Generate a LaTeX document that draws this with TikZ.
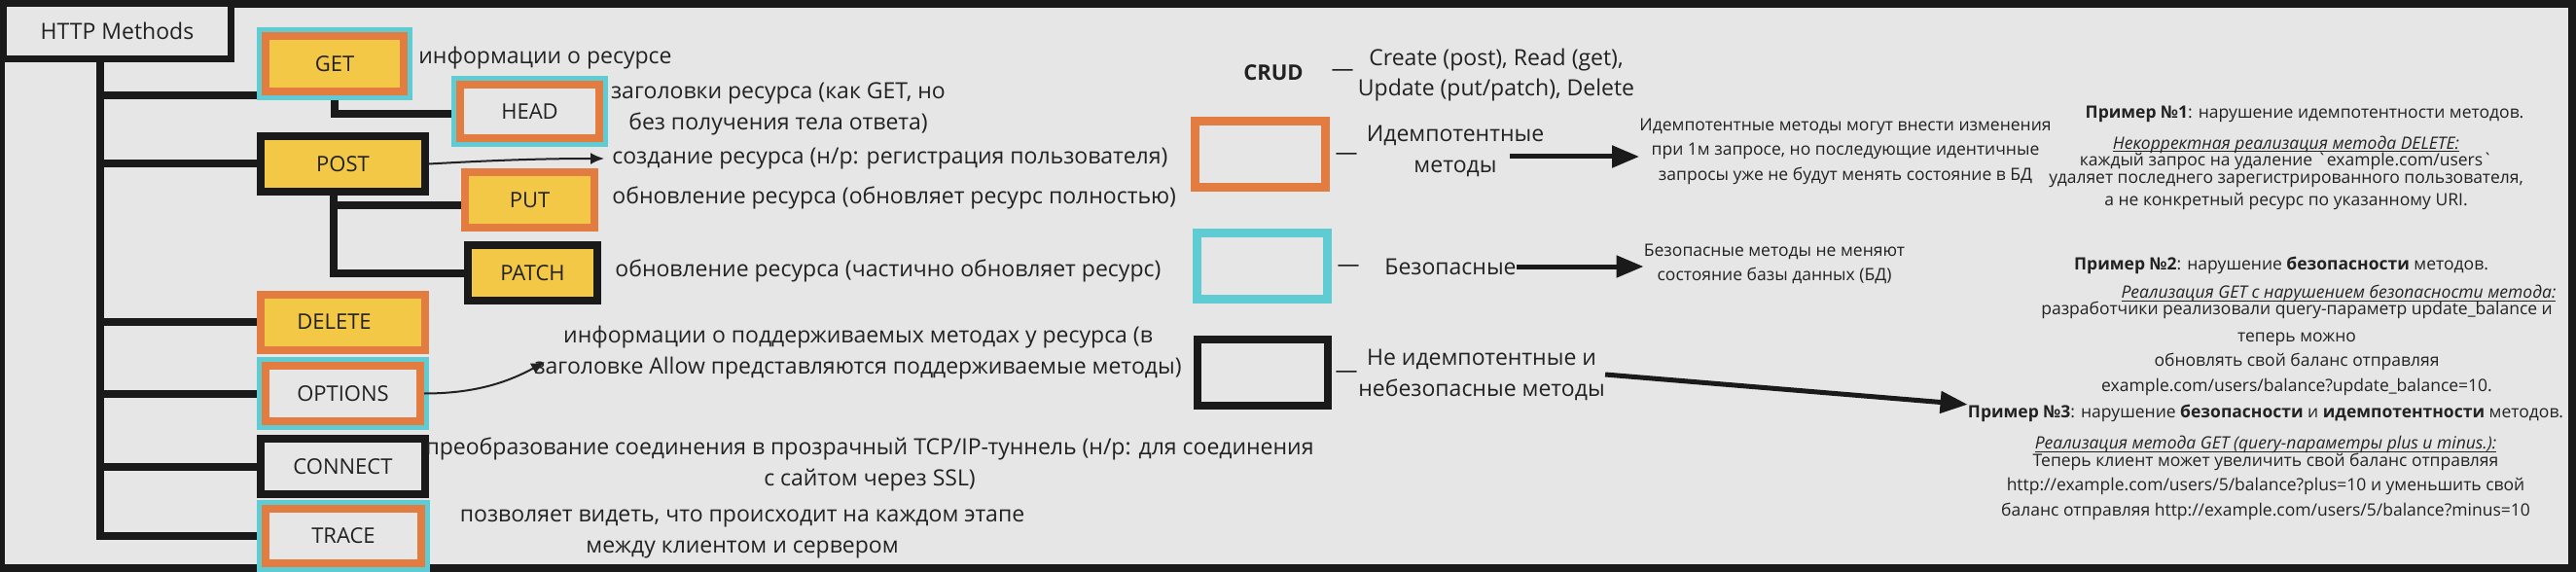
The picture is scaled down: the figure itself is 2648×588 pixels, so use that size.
\documentclass[tikz,border=0pt]{standalone}
\usepackage{fontspec}
\setmainfont{Open Sans}[Ligatures=TeXOff]
\usepackage{tikz}
\usetikzlibrary{arrows.meta,backgrounds}
\definecolor{frame}{HTML}{1A1A1A}
\definecolor{paper}{HTML}{E6E6E6}
\definecolor{ink}{HTML}{222222}
\definecolor{idem}{HTML}{E37C40}
\definecolor{safe}{HTML}{5FCCD4}
\definecolor{fillY}{HTML}{F2C846}
\newcommand\ulnote[1]{\setbox0\hbox{\itshape #1}\rlap{\rule[-1.5pt]{\wd0}{0.5pt}}\box0}

\begin{document}
\begin{tikzpicture}[
    x=0.5pt, y=-0.5pt,
    >=Stealth,
    every node/.style={text=ink, inner sep=0pt},
    desc/.style={font=\fontsize{11.5}{16}\selectfont, align=center},
    note/.style={font=\fontsize{8.75}{11.5}\selectfont, align=center},
    method/.style={rectangle, line width=4pt, minimum height=28.5pt,
        font=\fontsize{11}{13}\selectfont},
    ring/.style={preaction={draw=safe, line width=9pt}},
    legbox/.style={rectangle, line width=4.5pt, minimum width=67pt,
        minimum height=34pt, fill=paper},
    link/.style={draw=frame, line width=4pt},
    thinarrow/.style={-{Latex[length=7pt,width=6pt]}, line width=1pt, draw=ink},
    bigarrow/.style={-{Triangle[length=14pt,width=11pt]}, line width=2.5pt, draw=frame}
]
\useasboundingbox (0,0) rectangle (2648,588);

% Rahmen
\begin{scope}[on background layer]
\fill[frame] (0,0) rectangle (2648,588);
\fill[paper] (5,8) rectangle (2640,580);
\end{scope}

% HTTP Methods
\node[
    draw=frame,
    fill=paper,
    line width=3.5pt,
    minimum width=117pt,
    minimum height=28.25pt,
    font=\fontsize{11.5}{14}\selectfont
] (http) at (120.5,32.25) {HTTP Methods};

% Methoden
\node[method, ring, draw=idem, fill=fillY, minimum width=71pt] (get) at (344,65.5) {GET};
\node[method, ring, draw=idem, fill=paper, minimum width=71.5pt,
    minimum height=27.5pt] (head) at (544.5,114.5) {HEAD};
\node[method, draw=frame, fill=fillY, minimum width=84.5pt] (post) at (352.5,168.5) {POST};
\node[method, draw=idem, fill=fillY, minimum width=66.5pt] (put) at (544.5,205.5) {PUT};
\node[method, draw=frame, fill=fillY, minimum width=66.5pt] (patch) at (547.5,280.5) {PATCH};
\node[method, draw=idem, fill=fillY, minimum width=84.5pt] (delete) at (352.5,331) {DELETE\hspace*{9pt}};
\node[method, ring, draw=idem, fill=paper, minimum width=79.5pt] (options) at (352.5,404.5) {OPTIONS};
\node[method, draw=frame, fill=paper, minimum width=84.5pt] (connect) at (352.5,479.5) {CONNECT};
\node[method, ring, draw=idem, fill=paper, minimum width=80pt,
    minimum height=28pt] (trace) at (353,551) {TRACE};

% Baum
\coordinate (trunk) at (103,60);
\begin{scope}[on background layer]
\draw[link] (trunk) |- (get.south west);
\draw[link] (trunk) |- (post.west);
\draw[link] (trunk) |- (delete.west);
\draw[link] (trunk) |- (options.west);
\draw[link] (trunk) |- (connect.west);
\draw[link] (trunk) |- (trace.west);
\draw[link] (get.south) |- ([yshift=-1.5pt]head.west);
\draw[link] ([xshift=-5pt]post.south) |- ([yshift=-3pt]put.west);
\draw[link] ([xshift=-5pt]post.south) |- (patch.west);
\end{scope}

% Beschreibungen
\node[desc, anchor=west] (getdesc) at (430,60) {информации о ресурсе};
\node[desc] (headdesc) at (800,112) {заголовки ресурса (как GET, но\\без получения тела ответа)};
\node[desc, anchor=west] (postdesc) at (629,163) {создание ресурса (н/р: регистрация пользователя)};
\node[desc, anchor=west] (putdesc) at (629,203) {обновление ресурса (обновляет ресурс полностью)};
\node[desc, anchor=west] (patchdesc) at (632,278) {обновление ресурса (частично обновляет ресурс)};
\node[desc] (optdesc) at (882,363) {информации о поддерживаемых методах у ресурса (в\\заголовке Allow представляются поддерживаемые методы)};
\node[desc] (conndesc) at (894,477.5) {преобразование соединения в прозрачный TCP/IP-туннель (н/р: для соединения\\с сайтом через SSL)};
\node[desc] (tracedesc) at (763,548.5) {позволяет видеть, что происходит на каждом этапе\\между клиентом и сервером};

\draw[thinarrow] (post.east) .. controls +(70,-4) and +(-60,0) .. ([xshift=-4pt]postdesc.west);
\draw[thinarrow] (options.east) .. controls +(50,0) and +(-40,22) .. ([xshift=5.5pt,yshift=-4.5pt]optdesc.west);

% CRUD
\node[desc, font=\fontsize{11}{14}\selectfont\bfseries] (crud) at (1309,75) {CRUD};
\node[desc] (cruddash) at (1380,75) {—};
\node[desc, font=\fontsize{11.5}{15.5}\selectfont] (crudtext) at (1538,77.5) {Create (post), Read (get),\\Update (put/patch), Delete};

% Legende
\node[legbox, draw=idem] (idembox) at (1295.5,159) {};
\node[legbox, draw=safe] (safebox) at (1297,273.5) {};
\node[legbox, draw=frame, line width=4pt] (nonebox) at (1297.5,383) {};

\node[desc] (idemdash) at (1384,161) {—};
\node[desc] (safedash) at (1386,276) {—};
\node[desc] (nonedash) at (1384,385) {—};

\node[desc] (idemtext) at (1496,155.5) {Идемпотентные\\методы};
\node[desc] (safetext) at (1491,274) {Безопасные};
\node[desc] (nonetext) at (1523,385) {Не идемпотентные и\\небезопасные методы};

\node[note, font=\fontsize{8.75}{12.75}\selectfont] (idemnote) at (1897,155.5) {Идемпотентные методы могут внести изменения\\при 1м запросе, но последующие идентичные\\запросы уже не будут менять состояние в БД};
\node[note, font=\fontsize{8.75}{12.5}\selectfont] (safenote) at (1824,271.5) {Безопасные методы не меняют\\состояние базы данных (БД)};

\draw[bigarrow] ([xshift=-18pt,yshift=-2.75pt]idemtext.east) -- ([yshift=-2.75pt]idemnote.west);
\draw[bigarrow] (safetext.east) -- (safetext.east -| safenote.west);

% Beispiele
\node[note] (ex1) at (2350,162) {\hspace*{19pt}\textbf{Пример №1}: нарушение идемпотентности методов.\\[4.5pt]
    \ulnote{Некорректная реализация метода DELETE:}\\[-3pt]
    каждый запрос на удаление \char"60 example.com/users\char"60\\[-2.5pt]
    удаляет последнего зарегистрированного пользователя,\\
    а не конкретный ресурс по указанному URI.};
\node[note] (ex2) at (2361,335.5) {\textbf{Пример №2}: нарушение \textbf{безопасности} методов.\hspace*{16pt}\\[3pt]
    \hspace*{43pt}\ulnote{Реализация GET с нарушением безопасности метода:}\\[-3pt]
    разработчики реализовали query-параметр update\_balance и\\[2.5pt]
    теперь можно\\[1pt]
    обновлять свой баланс отправляя\\[1.5pt]
    example.com/users/balance?update\_balance=10.};
\node[note] (ex3) at (2329,475.5) {\textbf{Пример №3}: нарушение \textbf{безопасности} и \textbf{идемпотентности} методов.\\[4.5pt]
    \ulnote{Реализация метода GET (query-параметры plus и minus.):}\\[-2.5pt]
    Теперь клиент может увеличить свой баланс отправляя\\[1pt]
    http://example.com/users/5/balance?plus=10 и уменьшить свой\\[1.5pt]
    баланс отправляя http://example.com/users/5/balance?minus=10};

\draw[bigarrow] (nonetext.east) -- (ex3.north west);

\end{tikzpicture}
\end{document}
